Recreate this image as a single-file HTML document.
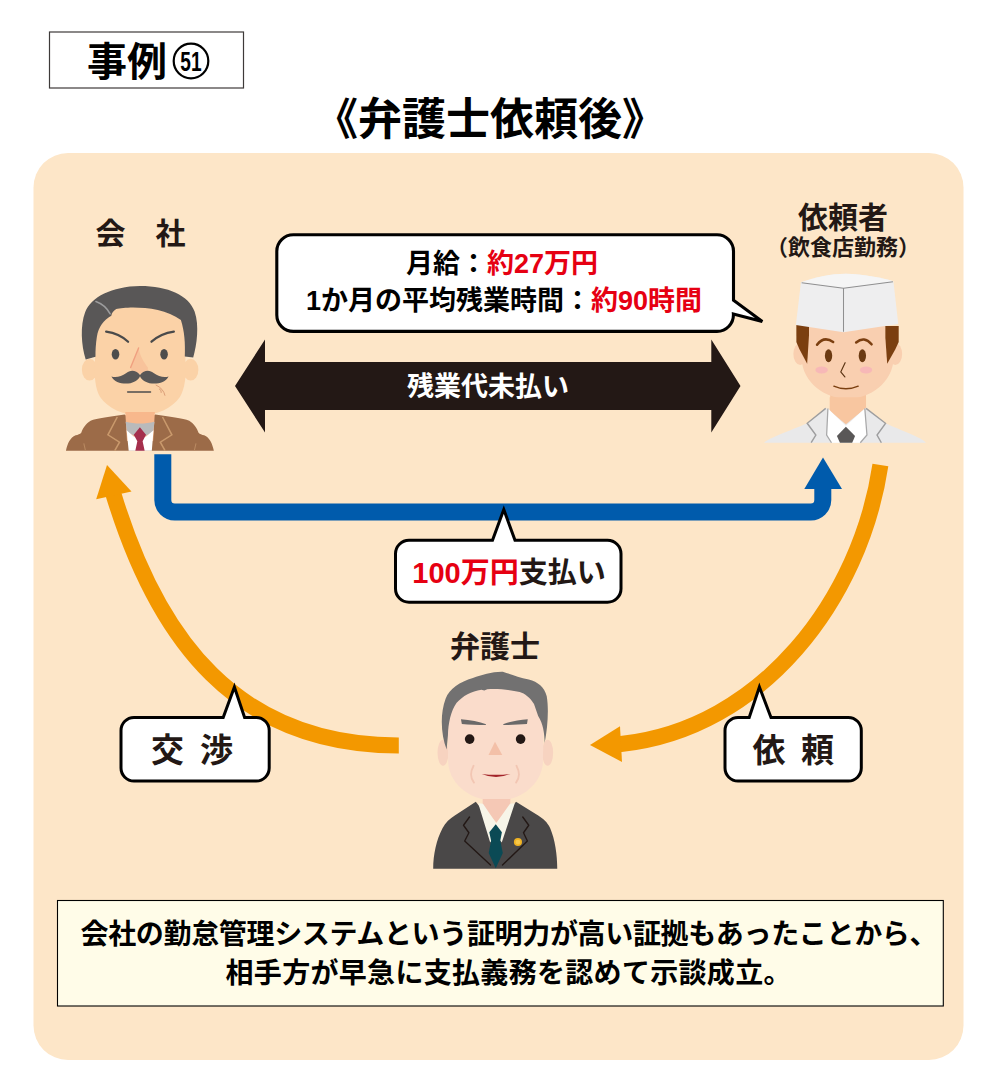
<!DOCTYPE html>
<html lang="ja"><head><meta charset="utf-8"><title>事例51 弁護士依頼後</title>
<style>
html,body{margin:0;padding:0;background:#fff;font-family:"Liberation Sans",sans-serif;}
body{width:1000px;height:1083px;overflow:hidden;}
svg{display:block;}
svg text{font-family:"Liberation Sans","Noto Sans CJK JP",sans-serif;font-weight:bold;}
</style></head><body>
<svg role="img" aria-label="事例51 弁護士依頼後" width="1000" height="1083" viewBox="0 0 1000 1083">
<rect width="1000" height="1083" fill="#fff"/>
<rect x="33.5" y="153" width="930" height="907" rx="34.5" fill="#fde6c8"/>
<rect x="49.5" y="32" width="194" height="56" fill="#fff" stroke="#3e3a39" stroke-width="1.2"/>
<text x="87" y="76" font-size="40" fill="#000">事例</text>
<circle cx="191" cy="61" r="17.3" fill="none" stroke="#000" stroke-width="2.2"/>
<g transform="translate(191 0) scale(0.85 1) translate(-191 0)">
<text x="191" y="70.6" font-size="28" fill="#000" text-anchor="middle" textLength="25" lengthAdjust="spacingAndGlyphs">51</text>
</g>
<text x="490" y="135" font-size="44" fill="#000" text-anchor="middle">《弁護士依頼後》</text>
<text x="95.5" y="244" font-size="30" fill="#231815">会　社</text>
<text x="843" y="228" font-size="30" fill="#231815" text-anchor="middle">依頼者</text>
<text x="843" y="255" font-size="22" fill="#231815" text-anchor="middle">（飲食店勤務）</text>
<text x="495" y="657" font-size="30" fill="#231815" text-anchor="middle">弁護士</text>
<path d="M293.3 234.8 H717 a16.5 16.5 0 0 1 16.5 16.5 V300.3 L762.3 321.5 L733.4 314 a16.5 16.5 0 0 1 -16.4 17.4 H293.3 a16.5 16.5 0 0 1 -16.5 -16.5 V251.3 a16.5 16.5 0 0 1 16.5 -16.5 Z" fill="#fff" stroke="#000" stroke-width="3.1" stroke-linejoin="miter"/>
<text x="502" y="273" font-size="27" fill="#000" text-anchor="middle">月給：<tspan fill="#e60012">約27万円</tspan></text>
<text x="504" y="310" font-size="27" fill="#000" text-anchor="middle">1か月の平均残業時間：<tspan fill="#e60012">約90時間</tspan></text>
<path d="M235 386 L265 339.5 V362 H711.3 V339.5 L740.5 386 L711.3 432.5 V410 H265 V432.5 Z" fill="#231815"/>
<text x="488" y="396" font-size="27" fill="#fff" text-anchor="middle">残業代未払い</text>
<path d="M162.8 454.3 V500 a12 12 0 0 0 12 12 H810.8 a12 12 0 0 0 12 -12 V486" fill="none" stroke="#005bac" stroke-width="17"/>
<path d="M823 457.5 L842 489 H804.3 Z" fill="#005bac"/>
<path d="M409 540.3 H492.5 L503.8 509.5 L515 540.3 H607.5 a13.5 13.5 0 0 1 13.5 13.5 V588.7 a13.5 13.5 0 0 1 -13.5 13.5 H409 a13.5 13.5 0 0 1 -13.5 -13.5 V553.8 a13.5 13.5 0 0 1 13.5 -13.5 Z" fill="#fff" stroke="#000" stroke-width="3" stroke-linejoin="miter"/>
<text x="509" y="583" font-size="29" fill="#231815" text-anchor="middle"><tspan fill="#e60012">100万円</tspan>支払い</text>
<path d="M112.2 488 L113.8 495.3 C157.5 638.3 235.6 745.6 398.8 745.5" fill="none" stroke="#f39800" stroke-width="16"/>
<path d="M107 465 L131.5 491.5 L96.2 499.2 Z" fill="#f39800"/>
<path d="M880.4 465.0 C860.5 598.5 762.8 728.7 621.0 744.0 L614 744.6" fill="none" stroke="#f39800" stroke-width="16"/>
<path d="M590 745 L620 726.2 L622 762 Z" fill="#f39800"/>
<path d="M134 717.5 H223.2 L234.4 687 L244.6 717.5 H256.2 a13 13 0 0 1 13 13 V768 a13 13 0 0 1 -13 13 H134 a13 13 0 0 1 -13 -13 V730.5 a13 13 0 0 1 13 -13 Z" fill="#fff" stroke="#000" stroke-width="3" stroke-linejoin="miter"/>
<text x="151 184 200" y="762" font-size="33" fill="#231815">交 渉</text>
<path d="M738 717.5 H749.2 L759.4 687 L771 717.5 H848.3 a13 13 0 0 1 13 13 V768 a13 13 0 0 1 -13 13 H738 a13 13 0 0 1 -13 -13 V730.5 a13 13 0 0 1 13 -13 Z" fill="#fff" stroke="#000" stroke-width="3" stroke-linejoin="miter"/>
<text x="752.5 786 801" y="762" font-size="33" fill="#231815">依 頼</text>
<rect x="57.5" y="900.5" width="885.8" height="105.5" fill="#fffce8" stroke="#000" stroke-width="1.1"/>
<text x="80.5" y="944" font-size="28" fill="#000" textLength="857">会社の勤怠管理システムという証明力が高い証拠もあったことから、</text>
<text x="225.5" y="983" font-size="28" fill="#000" textLength="566">相手方が早急に支払義務を認めて示談成立。</text>
<!-- ===== company man: head (zoom [70,278,210,428] x7.143) ===== -->
<g transform="translate(70,278) scale(0.14)">
  <ellipse cx="140" cy="655" rx="55" ry="78" fill="#fbd2a7"/>
  <ellipse cx="862" cy="655" rx="55" ry="78" fill="#fbd2a7"/>
  <path d="M190 180 L178 600 C172 700 180 790 215 850 C270 930 380 982 500 982 C620 982 730 930 785 850 C820 790 832 700 825 600 L812 180 Z" fill="#fbd2a7"/>
  <path d="M112 582 C80 480 72 340 108 245 C150 135 300 60 500 57 C700 57 850 125 890 240 C925 340 906 480 880 568 L820 560 C824 470 818 380 792 300 C700 228 560 210 450 210 C400 210 355 216 330 222 C310 235 298 250 295 270 C240 300 203 350 192 420 C184 470 182 520 182 562 Z" fill="#595757"/>
  <path d="M185 168 Q252 192 287 256" fill="none" stroke="#9c9c9d" stroke-width="11" stroke-linecap="round"/>
  <path d="M258 383 Q352 396 415 455" fill="none" stroke="#4a4a4a" stroke-width="16" stroke-linecap="round"/>
  <path d="M742 383 Q648 396 582 455" fill="none" stroke="#4a4a4a" stroke-width="16" stroke-linecap="round"/>
  <ellipse cx="325" cy="545" rx="27" ry="38" fill="#4d4d4d"/>
  <ellipse cx="672" cy="545" rx="27" ry="38" fill="#4d4d4d"/>
  <path d="M490 500 L432 640 C438 676 470 686 500 684 C538 682 562 666 556 640 C528 600 500 560 490 500Z" fill="#f8c39b"/>
  <path d="M490 500 L433 640" fill="none" stroke="#f0a080" stroke-width="10" stroke-linecap="round"/>
  <path d="M500 692 C470 655 430 654 400 680 C370 702 330 713 296 703 C318 746 380 762 432 751 C472 742 496 716 500 702 C504 716 528 742 568 751 C620 762 682 746 704 703 C670 713 630 702 600 680 C570 654 530 655 500 692Z" fill="#595757"/>
  <path d="M412 815 H575" stroke="#4d4d4d" stroke-width="11" stroke-linecap="round"/>
  <path d="M615 765 Q668 790 678 838 M638 792 Q656 800 652 818" fill="none" stroke="#d99c76" stroke-width="7" stroke-linecap="round"/>
</g>
<!-- ===== company man: body (zoom [60,400,230,460] x5.882) ===== -->
<g transform="translate(60,400) scale(0.17)">
  <path d="M35 298 C45 255 60 222 92 208 C105 203 118 200 125 192 C135 165 150 140 180 122 C215 108 300 98 380 86 L470 150 L560 86 C640 98 725 108 760 122 C790 140 805 165 815 192 C822 200 835 203 848 208 C880 222 895 255 905 298 Z" fill="#9c6b48"/>
  <path d="M384 70 H558 L548 240 L470 270 L394 240 Z" fill="#f8b88c"/>
  <path d="M386 128 C440 142 500 142 556 128 L548 190 L470 225 L394 190 Z" fill="#b9babb"/>
  <path d="M392 178 L437 218 L470 168 L503 218 L550 178 L540 298 H404 Z" fill="#fff"/>
  <path d="M470 160 L506 205 L486 242 L498 298 H443 L455 242 L434 205 Z" fill="#a52f4d"/>
  <path d="M337 100 L282 205 L350 248 L322 298" fill="none" stroke="#c9996c" stroke-width="9"/>
  <path d="M603 100 L658 205 L590 248 L618 298" fill="none" stroke="#c9996c" stroke-width="9"/>
  <path d="M140 255 L150 298 M800 255 L790 298" stroke="#b98a62" stroke-width="6"/>
</g>
<!-- ===== chef: head (zoom [740,250,970,460] x4.348) ===== -->
<g transform="translate(740,250) scale(0.23)">
  <path d="M392 600 H548 V760 H392Z" fill="#f8c6a0"/>
  <ellipse cx="262" cy="452" rx="30" ry="48" fill="#f9cfb0"/>
  <ellipse cx="675" cy="452" rx="30" ry="48" fill="#f9cfb0"/>
  <path d="M262 330 H672 L668 470 C665 580 560 648 468 648 C376 648 270 580 268 470 Z" fill="#f9cfb0"/>
  <path d="M245 322 H300 V372 L292 495 L258 430 L245 400Z" fill="#7b3f10"/>
  <path d="M690 330 H632 V380 L640 495 L676 430 L690 400Z" fill="#7b3f10"/>
  <path d="M265 140 C330 118 400 103 460 103 C530 105 610 118 667 136 L688 322 L450 358 L243 326 Z" fill="#eeeeef"/>
  <path d="M265 140 C330 118 400 103 460 103 C530 105 610 118 667 136 L450 166 Z" fill="#f5f5f5"/>
  <path d="M268 142 L450 166 L665 138 M450 166 V355" fill="none" stroke="#8f8f90" stroke-width="4.5"/>
  <path d="M335 412 Q365 372 405 400" fill="none" stroke="#7b3f10" stroke-width="11" stroke-linecap="round"/>
  <path d="M505 402 Q540 372 572 410" fill="none" stroke="#7b3f10" stroke-width="11" stroke-linecap="round"/>
  <ellipse cx="385" cy="460" rx="16" ry="28" fill="#6b3a12"/>
  <ellipse cx="532" cy="460" rx="16" ry="28" fill="#6b3a12"/>
  <ellipse cx="355" cy="522" rx="27" ry="15" fill="#f7b4b8" opacity=".85"/>
  <ellipse cx="548" cy="522" rx="27" ry="15" fill="#f7b4b8" opacity=".85"/>
  <path d="M457 490 L438 530 L456 552" fill="none" stroke="#5b3413" stroke-width="5" stroke-linecap="round" stroke-linejoin="round"/>
  <path d="M408 592 Q460 615 514 592" fill="none" stroke="#7b3f10" stroke-width="6" stroke-linecap="round"/>
</g>
<!-- ===== chef: body (zoom [755,390,935,450] x5.556) ===== -->
<g transform="translate(755,390) scale(0.18)">
  <path d="M50 293 C80 265 200 225 290 185 L395 100 L505 190 L615 100 L725 185 C810 225 930 265 950 293 Z" fill="#e9e9ea"/>
  <path d="M415 40 H600 V110 L505 182 L415 110Z" fill="#f8c6a0"/>
  <path d="M405 103 L505 198 L610 103 L622 250 L585 293 H425 L398 250Z" fill="#fff"/>
  <path d="M405 103 L398 250 L425 293 M610 103 L622 250 L585 293" fill="none" stroke="#a8a8a9" stroke-width="7"/>
  <path d="M505 204 L556 255 L540 293 H472 L455 255 Z" fill="#595757"/>
  <path d="M393 102 L290 185 L338 250 L312 293 M617 102 L725 185 L678 250 L702 293" fill="none" stroke="#9e9e9f" stroke-width="8"/>
</g>
<!-- ===== lawyer: head (zoom [430,665,560,805] x7.692) ===== -->
<g transform="translate(430,665) scale(0.13)">
  <path d="M405 980 H618 V1100 H405Z" fill="#f5c8b5"/>
  <ellipse cx="100" cy="675" rx="42" ry="100" fill="#f7d3c0"/>
  <ellipse cx="905" cy="675" rx="42" ry="100" fill="#f7d3c0"/>
  <path d="M135 420 C150 250 330 170 505 170 C690 170 860 250 875 420 L868 760 C850 930 690 1045 505 1045 C320 1045 160 930 140 760 Z" fill="#fadccb"/>
  <path d="M128 650 C85 540 75 380 120 260 C150 180 230 130 330 100 C400 75 480 50 560 52 C620 70 680 95 760 112 C830 130 880 170 898 240 C915 340 905 480 882 600 C880 520 870 450 832 392 L800 300 C770 250 730 220 690 208 C620 190 520 180 440 186 L418 196 L395 190 C320 200 250 240 205 290 C160 350 140 450 138 540 Z" fill="#727171"/>
  <path d="M238 417 C310 422 380 436 432 456 L428 462 C370 462 300 458 245 454Z M752 417 C680 422 612 436 562 456 L566 462 C624 462 692 458 746 454Z" fill="#6a6969"/>
  <circle cx="305" cy="570" r="37" fill="#231815"/>
  <circle cx="697" cy="570" r="37" fill="#231815"/>
  <path d="M500 590 L450 692 H556 Z" fill="#f3c0a8"/>
  <path d="M398 838 Q508 852 618 838 Q508 885 398 838Z" fill="#a3242a"/>
  <path d="M335 775 Q295 850 338 905 M665 775 Q705 850 662 905" fill="none" stroke="#f2c6b3" stroke-width="14" stroke-linecap="round"/>
</g>
<!-- ===== lawyer: body (zoom [420,790,570,875] x6.667) ===== -->
<g transform="translate(420,790) scale(0.15)">
  <path d="M88 525 C88 430 110 330 150 255 C170 215 200 190 232 170 L372 78 L505 250 L640 78 L788 170 C820 190 850 215 868 255 C900 330 915 430 915 525 Z" fill="#4a4848"/>
  <path d="M420 60 H600 V110 L510 218 L420 110Z" fill="#f5c8b5"/>
  <path d="M388 88 L420 92 L508 222 L600 92 L632 88 L545 350 L505 300 L468 350 Z" fill="#f7f5e8"/>
  <path d="M505 228 L546 282 L535 338 L552 420 L505 522 L458 420 L474 338 L462 282 Z" fill="#0b4a55"/>
  <path d="M330 180 L290 235 L326 285 L298 340 L470 500 M685 180 L725 235 L690 285 L716 340 L550 500" fill="none" stroke="#231815" stroke-width="9" stroke-linejoin="round" stroke-linecap="round"/>
  <circle cx="653" cy="347" r="27" fill="#f0b323"/>
  <circle cx="653" cy="347" r="16" fill="#f6c84a"/>
</g>
</svg>
</body></html>
